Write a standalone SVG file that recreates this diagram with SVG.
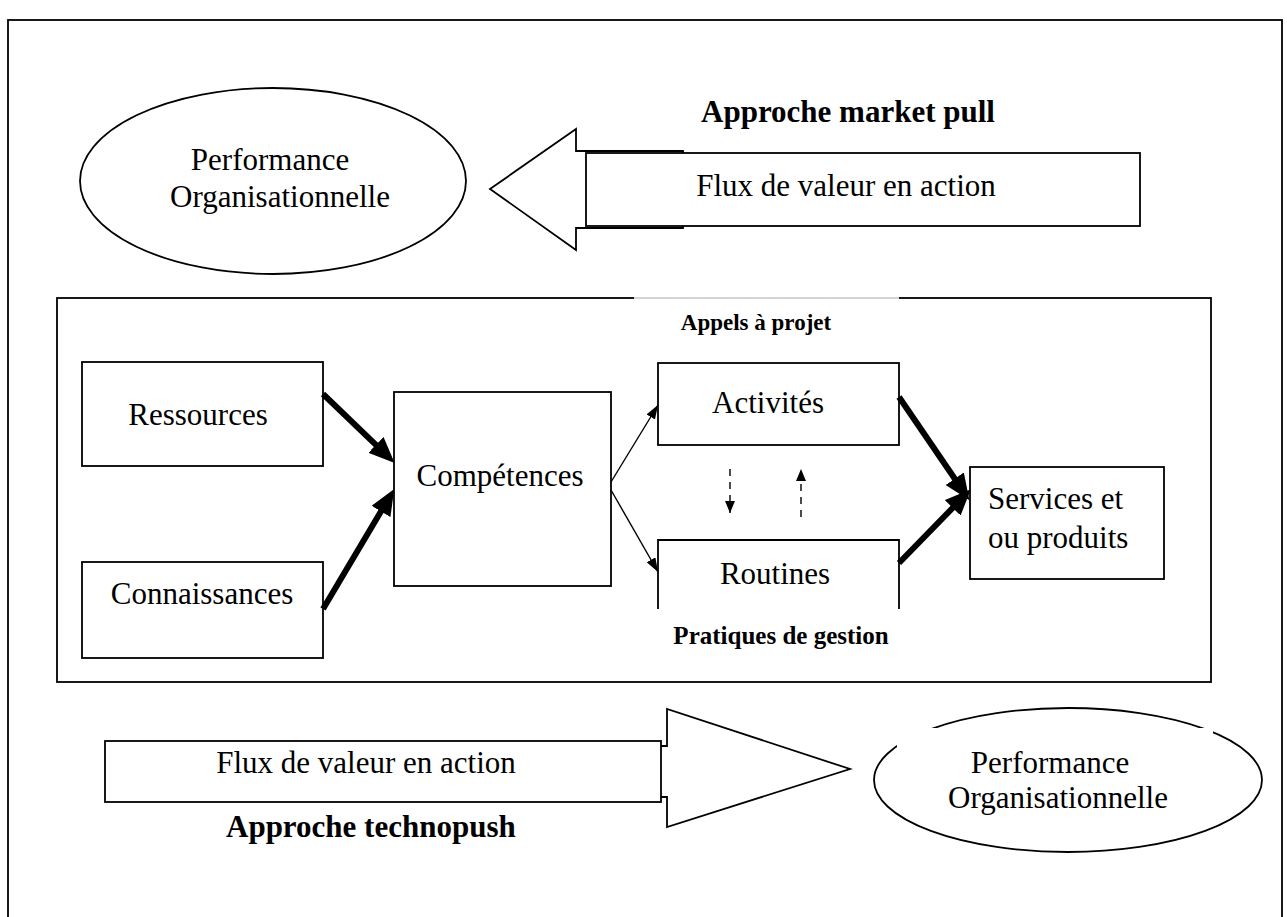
<svg xmlns="http://www.w3.org/2000/svg" width="1287" height="917" viewBox="0 0 1287 917">
<defs>
<style>
.t{font-family:"Liberation Serif","Times New Roman",serif;font-size:31px;fill:#000}
.b{font-family:"Liberation Serif","Times New Roman",serif;font-weight:bold;fill:#000}
.box{fill:#fff;stroke:#000;stroke-width:1.8}
.thick{stroke:#000;stroke-width:6;fill:none;marker-end:url(#hbig)}
.thin{stroke:#000;stroke-width:1.4;fill:none;marker-end:url(#hsmall)}
.dash{stroke:#000;stroke-width:1.4;fill:none;stroke-dasharray:7,6;marker-end:url(#hdash)}
</style>
<marker id="hbig" markerUnits="userSpaceOnUse" markerWidth="28" markerHeight="24" refX="4" refY="11" orient="auto"><path d="M0,0 L26,11 L0,22 z" fill="#000"/></marker>
<marker id="hsmall" markerUnits="userSpaceOnUse" markerWidth="16" markerHeight="12" refX="14" refY="5" orient="auto"><path d="M0,0 L14,5 L0,10 z" fill="#000"/></marker>
<marker id="hdash" markerUnits="userSpaceOnUse" markerWidth="14" markerHeight="12" refX="12" refY="5" orient="auto"><path d="M0,0 L12,5 L0,10 z" fill="#000"/></marker>
</defs>
<rect x="0" y="0" width="1287" height="917" fill="#fff"/>
<rect x="8" y="20" width="1274" height="930" fill="none" stroke="#000" stroke-width="1.8"/>

<g id="label-market-pull"><text class="b" x="848" y="122" font-size="31" text-anchor="middle">Approche market pull</text></g>

<g id="perf-top">
<ellipse cx="273" cy="181" rx="193" ry="93" fill="#fff" stroke="#000" stroke-width="1.8"/>
<text class="t" x="270" y="170" text-anchor="middle">Performance</text>
<text class="t" x="280" y="207" text-anchor="middle">Organisationnelle</text>
</g>

<g id="flux-top">
<polygon points="490,189 576,129 576,151 683,151 683,228 576,228 576,250" fill="#fff" stroke="#000" stroke-width="1.8"/>
<rect class="box" x="586" y="153" width="554" height="73"/>
<text class="t" x="846" y="196" text-anchor="middle">Flux de valeur en action</text>
</g>

<g id="frame">
<rect x="57" y="298" width="1154" height="384" fill="none" stroke="#000" stroke-width="1.8"/>
<rect x="634" y="296" width="265" height="5" fill="#fff"/>
<line x1="634" y1="298" x2="899" y2="298" stroke="#aaa" stroke-width="1"/>
</g>

<g id="ressources"><rect class="box" x="82" y="362" width="241" height="104"/><text class="t" x="198" y="425" text-anchor="middle">Ressources</text></g>
<g id="connaissances"><rect class="box" x="82" y="562" width="241" height="96"/><text class="t" x="202" y="604" text-anchor="middle">Connaissances</text></g>
<g id="competences"><rect class="box" x="394" y="392" width="217" height="194"/><text class="t" x="500" y="486" text-anchor="middle">Compétences</text></g>

<g id="appels"><text class="b" x="756" y="330" font-size="23" text-anchor="middle">Appels à projet</text></g>
<g id="activites"><rect class="box" x="658" y="363" width="241" height="82"/><text class="t" x="768" y="413" text-anchor="middle">Activités</text></g>

<g id="routines">
<path d="M658,609 L658,540 L899,540 L899,609" fill="#fff" stroke="#000" stroke-width="1.8"/>
<text class="t" x="775" y="584" text-anchor="middle">Routines</text>
</g>
<g id="pratiques"><text class="b" x="781" y="644" font-size="25" text-anchor="middle">Pratiques de gestion</text></g>

<g id="services"><rect class="box" x="970" y="467" width="194" height="112"/>
<text class="t" x="988" y="509">Services et</text>
<text class="t" x="988" y="548">ou produits</text></g>

<g id="connectors">
<line class="thick" x1="323" y1="394" x2="378.8" y2="447.7"/>
<line class="thick" x1="323" y1="609" x2="383" y2="508"/>
<line class="thin" x1="611" y1="482" x2="658" y2="405"/>
<line class="thin" x1="611" y1="490" x2="658" y2="572"/>
<line class="dash" x1="730" y1="469" x2="730" y2="513"/>
<line class="dash" x1="801" y1="517" x2="801" y2="469"/>
<line class="thick" x1="899" y1="397" x2="957" y2="482"/>
<line class="thick" x1="899" y1="563" x2="955.5" y2="505"/>
</g>

<g id="flux-bottom">
<polygon points="600,746 667,746 667,709 850,769 667,827 667,797 600,797" fill="#fff" stroke="#000" stroke-width="1.8"/>
<rect class="box" x="105" y="741" width="556" height="61"/>
<text class="t" x="366" y="773" text-anchor="middle">Flux de valeur en action</text>
</g>

<g id="label-technopush"><text class="b" x="226" y="837" font-size="31">Approche technopush</text></g>

<g id="perf-bottom">
<ellipse cx="1068" cy="780" rx="194" ry="72" fill="#fff" stroke="#000" stroke-width="1.8"/>
<rect x="897" y="728" width="316" height="46" fill="#fff"/>
<text class="t" x="1050" y="773" text-anchor="middle">Performance</text>
<text class="t" x="1058" y="808" text-anchor="middle">Organisationnelle</text>
</g>
</svg>
